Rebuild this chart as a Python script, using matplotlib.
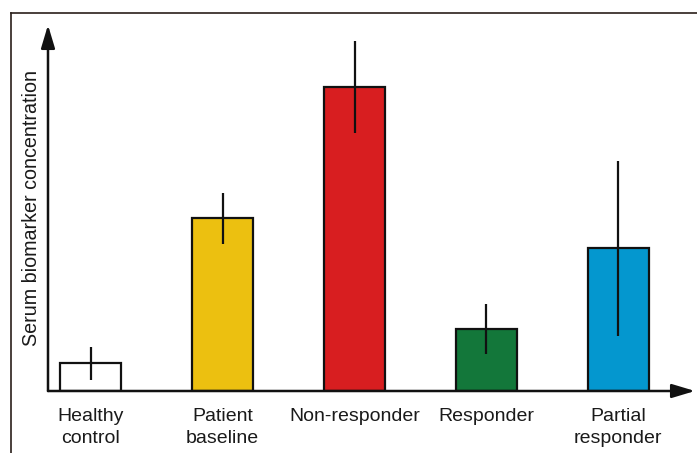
import matplotlib
matplotlib.use("Agg")
import matplotlib.pyplot as plt
from matplotlib.lines import Line2D
from matplotlib.patches import FancyArrowPatch

categories = ["Healthy\ncontrol", "Patient\nbaseline", "Non-responder", "Responder", "Partial\nresponder"]
values = [28, 173, 304, 62, 143]
errors = [16.5, 25.5, 46, 25, 87.5]
colors = ["#ffffff", "#ecc010", "#d81e20", "#13773a", "#0497cf"]
ylabel = "Serum biomarker concentration"

plt.rcParams['font.family'] = ['Liberation Sans', 'DejaVu Sans']

W, H = 697, 453
fig = plt.figure(figsize=(W / 100, H / 100), dpi=100)

x0, x1 = 48, 695
y0, y1 = 391, 25
ax = fig.add_axes([x0 / W, (H - y0) / H, (x1 - x0) / W, (y0 - y1) / H])
ax.set_xlim(-0.326, 4.584)
ax.set_ylim(0, 366)
for s in ax.spines.values():
    s.set_visible(False)

pos = list(range(len(categories)))
ax.bar(pos, values, width=0.463, color=colors, edgecolor="#111111", linewidth=1.6, zorder=2)
ax.errorbar(pos, values, yerr=errors, fmt="none", ecolor="#111111", elinewidth=1.6, capsize=0, zorder=3)

ax.set_yticks([])
ax.set_xticks(pos)
ax.set_xticklabels(categories, fontsize=14, color="#1a1a1a", linespacing=1.36)
ax.tick_params(axis="x", length=0, pad=12.5)
ax.set_ylabel(ylabel, fontsize=14.2, color="#1a1a1a", labelpad=5)

# axes arrows
for start, end in [((0, 0), (1, 0)), ((0, 0), (0, 1))]:
    arr = FancyArrowPatch(start, end, transform=ax.transAxes, arrowstyle="-|>,head_length=14,head_width=4.2",
                          mutation_scale=1, color="#111111", linewidth=1.8, shrinkA=0, shrinkB=0,
                          clip_on=False, zorder=4)
    ax.add_patch(arr)

# outer frame lines (top and left)
fig.add_artist(Line2D([11 / W, 1], [1 - 13 / H, 1 - 13 / H], transform=fig.transFigure, color="#2a1f1a", linewidth=1.2))
fig.add_artist(Line2D([11 / W, 11 / W], [0, 1 - 13 / H], transform=fig.transFigure, color="#2a1f1a", linewidth=1.2))

fig.savefig("out.png", dpi=100)
